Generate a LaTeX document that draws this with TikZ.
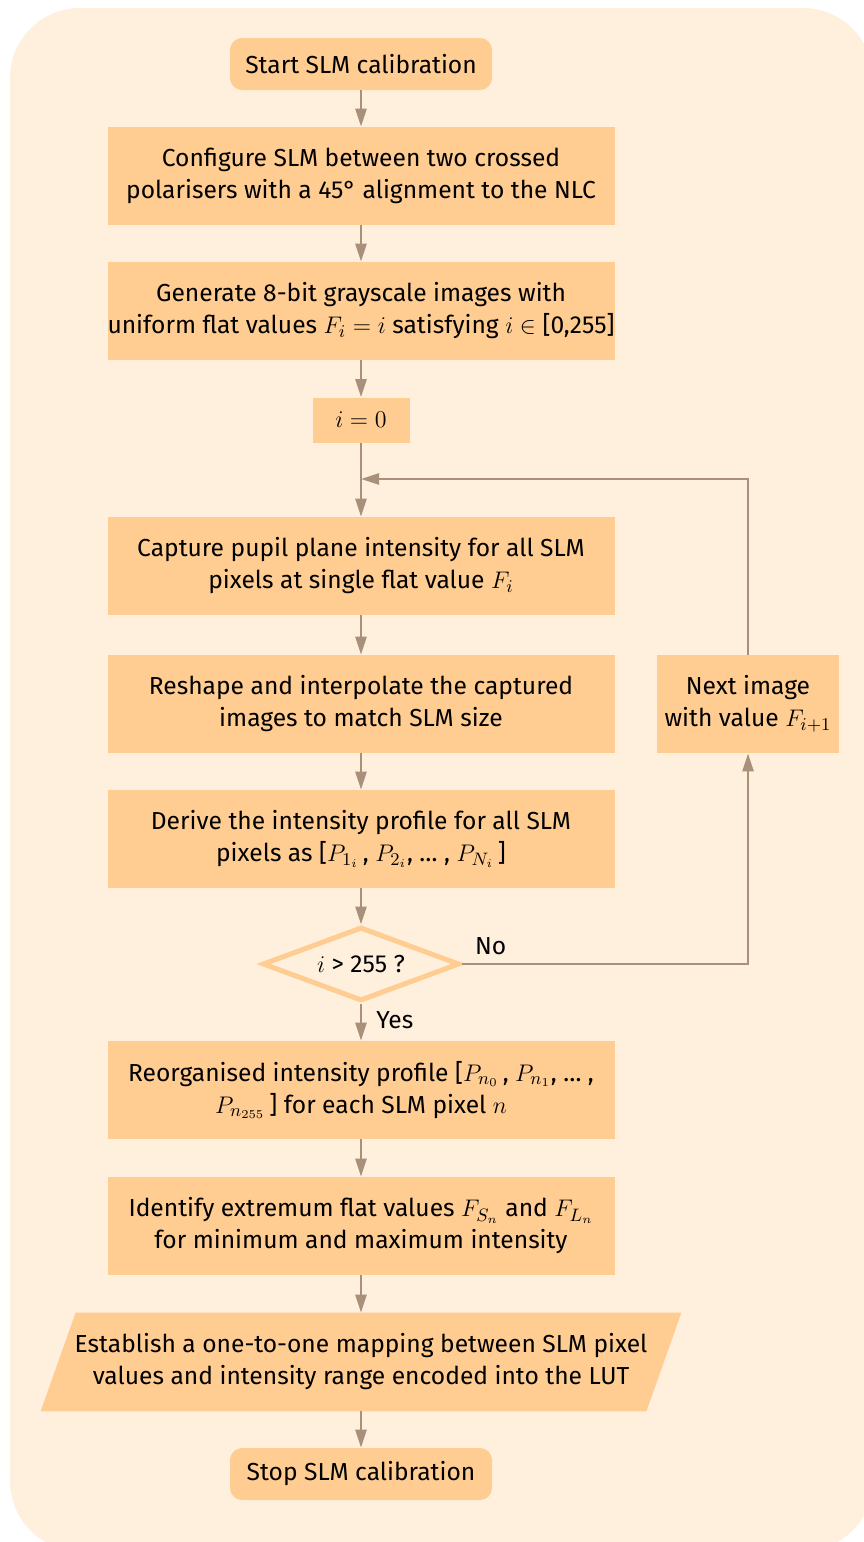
\documentclass[tikz,border=0pt]{standalone}
\usepackage{fontspec}
\setmainfont{Fira Sans}
\usetikzlibrary{arrows.meta, shapes.geometric, positioning, backgrounds}

\definecolor{boxfill}{HTML}{FFCC91}
\definecolor{panel}{HTML}{FFF0DE}
\definecolor{flow}{HTML}{A8907A}

\begin{document}
\begin{tikzpicture}
[x=0.5pt, y=-0.5pt, font=\fontsize{12.3}{16}\selectfont,
every node/.style={inner sep=0pt, align=center},
stepbox/.style={fill=boxfill, minimum width=253.5pt, minimum height=49pt},
terminal/.style={fill=boxfill, rounded corners=6pt, minimum width=131pt, minimum height=26pt},
test/.style={diamond, aspect=2.6, draw=boxfill, line width=2.5pt, fill=panel, minimum width=98.5pt, minimum height=37pt},
link/.style={draw=flow, line width=1.3pt, -{Triangle[length=9pt, width=5.5pt]}}
]

\useasboundingbox (0,0) rectangle (863,1542);

% main column
\path
node[terminal] (start) at (361,64) {Start SLM calibration}
node[stepbox] (config) at (361,176) {Configure SLM between two crossed\\polarisers with a 45° alignment to the NLC}
node[stepbox] (gen) at (361,311) {Generate 8-bit grayscale images with\\uniform flat values $F_i = i$ satisfying $i \in{}$[0,255]}
node[fill=boxfill, minimum width=48.5pt, minimum height=22.5pt] (init) at (361,420) {$i = 0$}
node[stepbox] (capture) at (361,566) {Capture pupil plane intensity for all SLM\\pixels at single flat value $F_i$}
node[stepbox] (reshape) at (361,704) {Reshape and interpolate the captured\\images to match SLM size}
node[stepbox] (derive) at (361,839) {Derive the intensity profile for all SLM\\pixels as [$P_{1_i}$\,, $P_{2_i}$, … , $P_{N_i}$\,]}
node[test] (check) at (361,964) {$i$ > 255 ?}
node[stepbox] (reorg) at (361,1090) {Reorganised intensity profile [$P_{n_0}$\,, $P_{n_1}$, … ,\\$P_{n_{255}}$\,] for each SLM pixel $n$}
node[stepbox] (extrema) at (361,1226) {Identify extremum flat values $F_{S_n}$ and $F_{L_n}$\\for minimum and maximum intensity}
node[minimum width=302.5pt, minimum height=49pt] (lut) at (361,1362) {Establish a one-to-one mapping between SLM pixel\\values and intensity range encoded into the LUT}
node[terminal] (stop) at (361,1474) {Stop SLM calibration}
;

% loop back
\node[fill=boxfill, minimum width=91pt, minimum height=49pt] (next) at (748,704) {Next image\\with value $F_{i+1}$};
\coordinate (join) at (361,479);

% panel and slanted data box
\begin{scope}[on background layer]
\fill[panel, rounded corners=35pt] (10,8) rectangle (873,1551);
\fill[boxfill] ([xshift=-8.75pt]lut.south west) -- ([xshift=8.75pt]lut.north west)
  -- ([xshift=8.75pt]lut.north east) -- ([xshift=-8.75pt]lut.south east) -- cycle;
\end{scope}

\begin{scope}[link]
\draw (start) -- (config);
\draw (config) -- (gen);
\draw (gen) -- (init);
\draw (init) -- (capture);
\draw (capture) -- (reshape);
\draw (reshape) -- (derive);
\draw (derive) -- (check);
\draw (check) -- node[right=7pt, pos=0.45] {Yes} (reorg);
\draw (reorg) -- (extrema);
\draw (extrema) -- (lut);
\draw (lut) -- (stop);
\draw (check.east) -- node[above=4pt, pos=0.1] {No} (check.east -| next.south) -- (next.south);
\draw (next.north) |- (join);
\end{scope}

\end{tikzpicture}
\end{document}
